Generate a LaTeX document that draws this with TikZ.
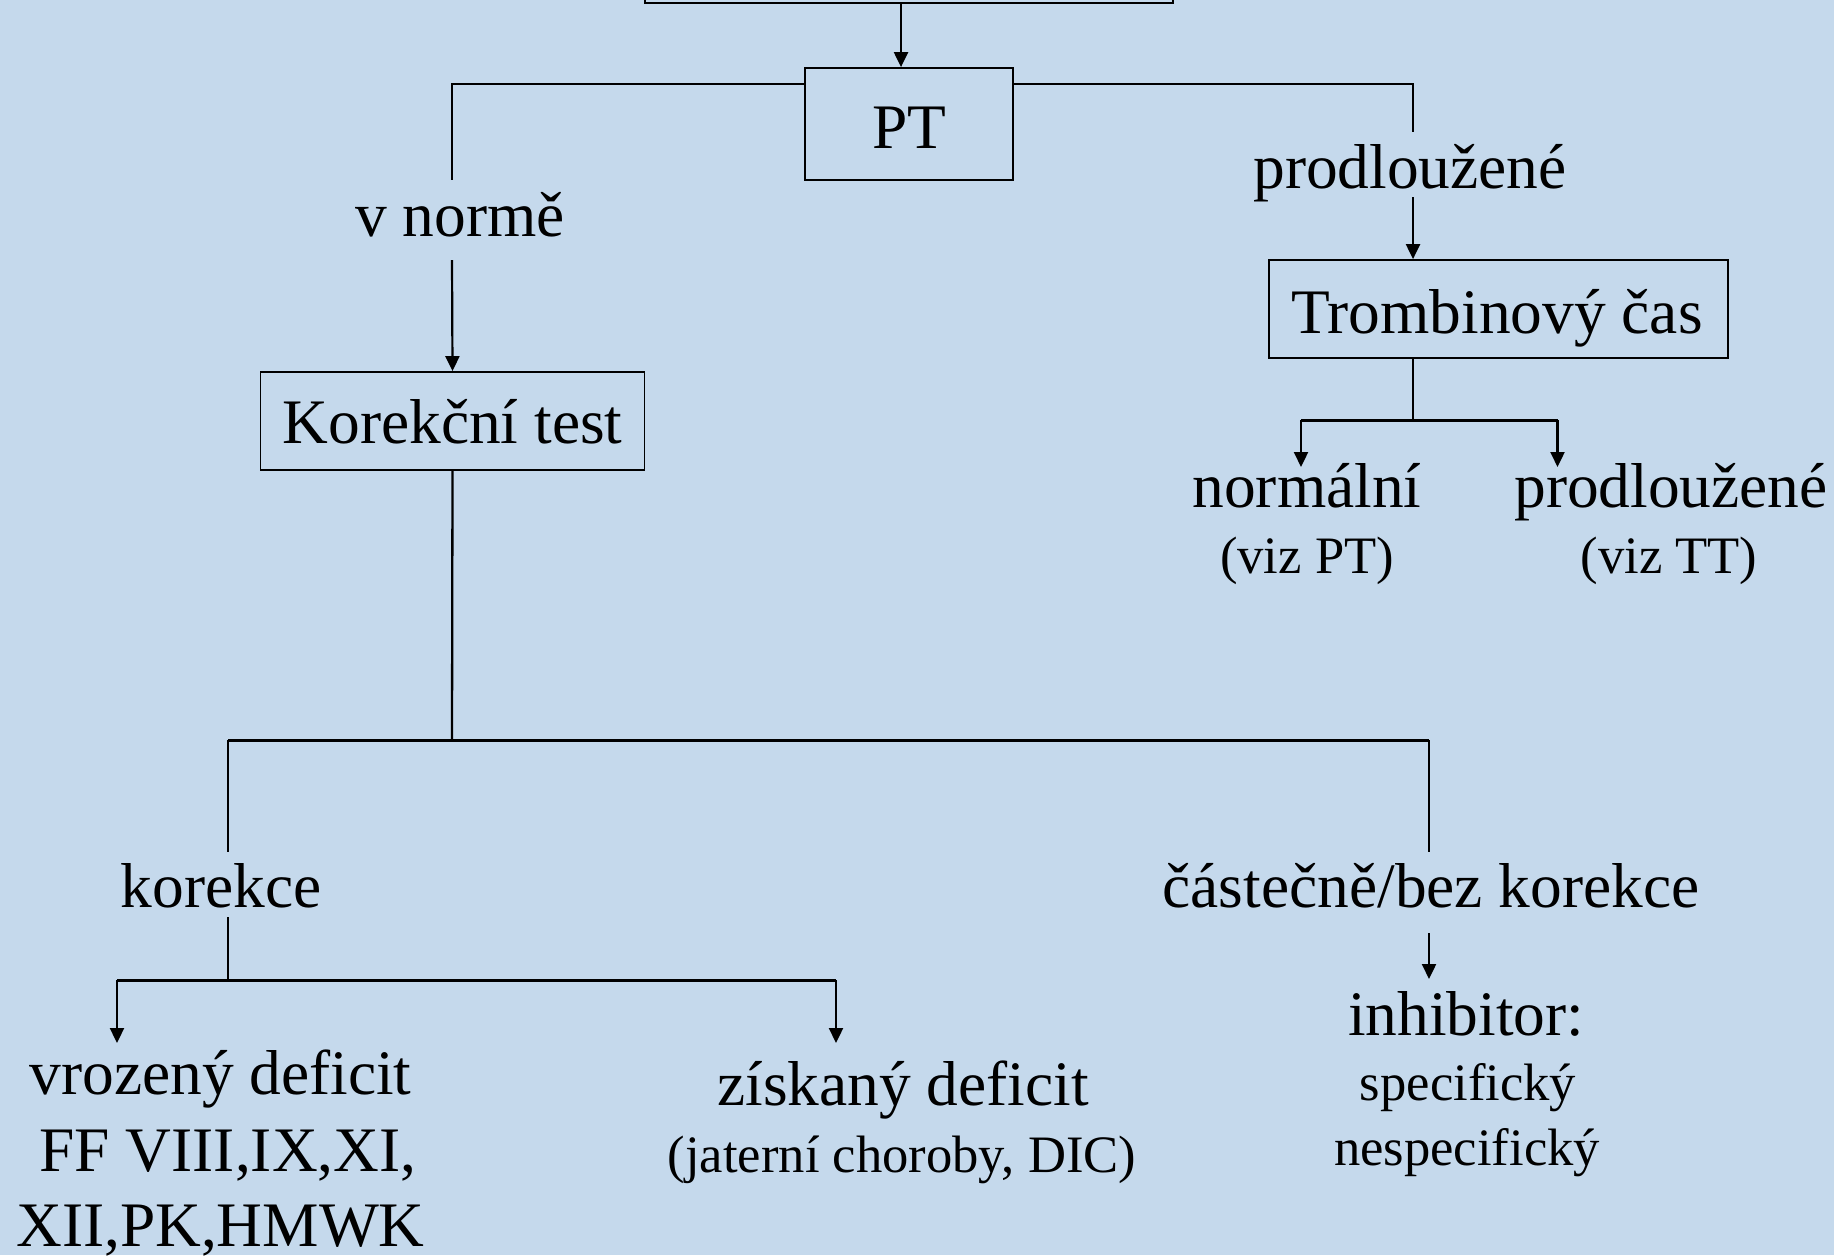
\documentclass[tikz,border=0pt]{standalone}
\usepackage{fontspec}
\setmainfont{Liberation Serif}
\usetikzlibrary{arrows.meta}
\definecolor{bgblue}{RGB}{197,217,236}
\tikzset{
  box/.style={draw=black, line width=0.9pt, rectangle, inner sep=0pt},
  big/.style={inner sep=0pt, anchor=base, font=\fontsize{31.7}{38}\selectfont},
  small/.style={inner sep=0pt, anchor=base, font=\fontsize{26.3}{32}\selectfont},
  conn/.style={line width=1.15pt},
  bar/.style={line width=1.5pt},
  arr/.style={line width=1.1pt, -{Triangle[length=7.5pt,width=7pt]}}
}
\begin{document}
\begin{tikzpicture}[x=0.5pt,y=-0.5pt]
\useasboundingbox (0,0) rectangle (1834,1255);
\clip (0,0) rectangle (1834,1255);
\fill[bgblue] (0,0) rectangle (1834,1255);

% boxes
\node[box, minimum width=264pt, minimum height=52pt, anchor=south] (top) at (909,4) {};
\node[box, minimum width=104pt, minimum height=56pt] (pt) at (909,124) {};
\node[big] (pttext) at (909,148) {PT};
\node[box, minimum width=192pt, minimum height=49pt] (kt) at (452.5,421) {};
\node[big] (kttext) at (452.5,443) {Korekční test};
\node[box, minimum width=229.5pt, minimum height=49pt] (tc) at (1498.5,309) {};
\node[big] (tctext) at (1497,333) {Trombinový čas};

% labels
\node[big] (vnorme) at (460,236) {v normě};
\node[big] (prod1) at (1410,188) {prodloužené};
\node[big] (norm) at (1307,507) {normální};
\node[small] (vizpt) at (1307,573) {(viz PT)};
\node[big] (prod2) at (1671,507) {prodloužené};
\node[small] (viztt) at (1669,573) {(viz TT)};
\node[big] (korekce) at (221,907) {korekce};
\node[big] (castecne) at (1431,907) {částečně/bez korekce};
\node[big] (vroz1) at (220.5,1094) {vrozený deficit};
\node[big] (vroz2) at (228,1171) {FF VIII,IX,XI,};
\node[big] (vroz3) at (220.5,1246) {XII,PK,HMWK};
\node[big] (ziskany) at (903,1105) {získaný deficit};
\node[small] (jaterni) at (902,1172) {(jaterní choroby, DIC)};
\node[big] (inhib) at (1466,1035) {inhibitor:};
\node[small] (spec) at (1468,1100) {specifický};
\node[small] (nespec) at (1467,1165) {nespecifický};

% coordinates
\coordinate (c1) at (452,180);
\coordinate (c2) at (452,260);
\coordinate (c3) at (1413,132);
\coordinate (c4) at (1413,197);
\coordinate (c6) at (1413,420);
\coordinate (c7) at (1301,467);
\coordinate (c8) at (1557.5,467);
\coordinate (c9) at (452,740);
\coordinate (c10) at (228,740);
\coordinate (c11) at (1429,740);
\coordinate (c12) at (228,852);
\coordinate (c13) at (1429,852);
\coordinate (c14) at (228,917);
\coordinate (c15) at (228,980);
\coordinate (c16) at (117,980);
\coordinate (c17) at (836,980);
\coordinate (c18) at (117,1043);
\coordinate (c19) at (836,1043);
\coordinate (c20) at (1429,933);
\coordinate (c21) at (1429,979);

% connectors
\draw[arr] ([xshift=-4pt]top.south) -- ([xshift=-4pt]pt.north);
\draw[conn] ([yshift=20pt]pt.west) -| (c1);
\draw[arr] (c2) -- (kt.north);
\draw[conn] ([yshift=20pt]pt.east) -| (c3);
\draw[arr] (c4) -- (c4 |- tc.north);
\draw[conn] (c4 |- tc.south) -- (c6);
\draw[bar] (c6 -| c7) -- (c6 -| c8);
\draw[arr] (c6 -| c7) -- (c7);
\draw[arr] (c6 -| c8) -- (c8);
\draw[conn] (kt.south) -- (c9);
\draw[bar] (c10) -- (c11);
\draw[conn] (c10) -- (c12);
\draw[conn] (c11) -- (c13);
\draw[conn] (c14) -- (c15);
\draw[bar] (c16) -- (c17);
\draw[arr] (c16) -- (c18);
\draw[arr] (c17) -- (c19);
\draw[arr] (c20) -- (c21);
\end{tikzpicture}
\end{document}
